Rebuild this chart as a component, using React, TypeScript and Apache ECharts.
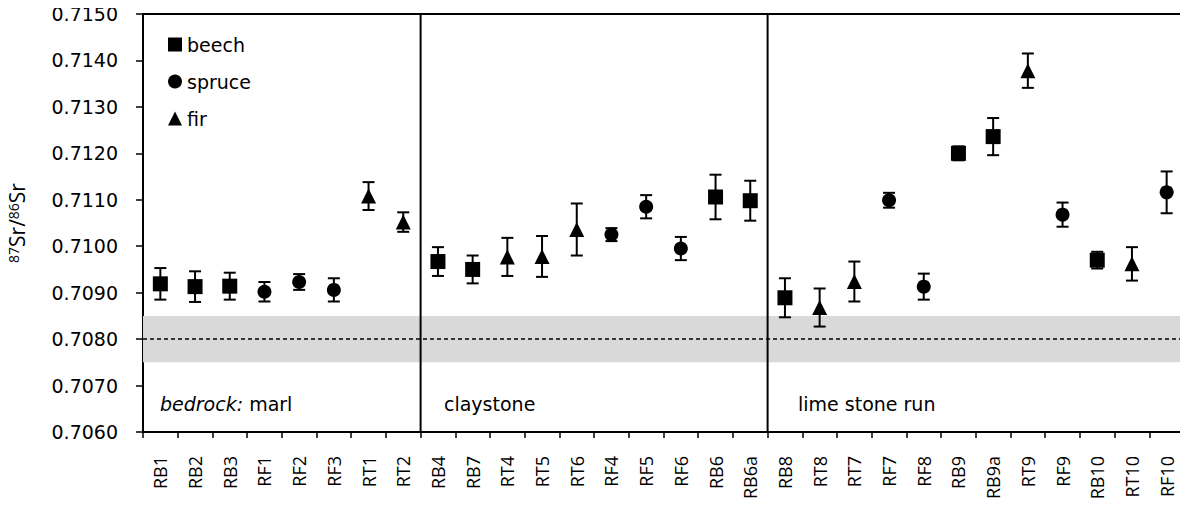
import React, { useEffect, useRef } from "react";
import * as echarts from "echarts";

const categories = ["RB1","RB2","RB3","RF1","RF2","RF3","RT1","RT2","RB4","RB7","RT4","RT5","RT6","RF4","RF5","RF6","RB6","RB6a","RB8","RT8","RT7","RF7","RF8","RB9","RB9a","RT9","RF9","RB10","RT10","RF10"];
const species = ["beech","beech","beech","spruce","spruce","spruce","fir","fir","beech","beech","fir","fir","fir","spruce","spruce","spruce","beech","beech","beech","fir","fir","spruce","spruce","beech","beech","fir","spruce","beech","fir","spruce"];
const ratios = [0.70919,0.70913,0.70914,0.70902,0.70923,0.70906,0.71108,0.71052,0.70967,0.70950,0.70977,0.70978,0.71036,0.71025,0.71085,0.70995,0.71106,0.71098,0.70889,0.70868,0.70924,0.71099,0.70913,0.71200,0.71236,0.71378,0.71068,0.70970,0.70962,0.71116];
const errors = [0.00034,0.00033,0.00029,0.00021,0.00017,0.00025,0.00030,0.00021,0.00031,0.00030,0.00041,0.00044,0.00056,0.00014,0.00025,0.00025,0.00048,0.00043,0.00042,0.00041,0.00043,0.00016,0.00028,0.00015,0.00040,0.00037,0.00026,0.00018,0.00036,0.00045];
const speciesList = ["beech", "spruce", "fir"];
const speciesSymbols = ["rect", "circle", "triangle"];
const speciesSizes = [15, 14, 15];
const bandRange = [0.7075, 0.7085];
const seawaterLine = 0.708;
const dividers = [7.5, 17.5];
const yMin = 0.706;
const yMax = 0.715;
const yStep = 0.001;

const FONT = "DejaVu Sans";

export default function App() {
  const ref = useRef<HTMLDivElement>(null);
  useEffect(() => {
    if (!ref.current) return;
    const chart = echarts.init(ref.current, null, { renderer: "svg" });
    const xMinV = -0.5;
    const xMaxV = categories.length - 0.5;
    const scatterSeries = speciesList.map((s, k) => ({
      name: s,
      type: "scatter",
      xAxisIndex: 0,
      yAxisIndex: 0,
      symbol: speciesSymbols[k],
      symbolSize: speciesSizes[k],
      itemStyle: { color: "#000", opacity: 1 },
      z: 5,
      data: categories
        .map((c, i) => (species[i] === s ? [c, ratios[i]] : null))
        .filter((d) => d !== null),
    }));
    const option: any = {
      animation: false,
      grid: { left: 143, right: 4, top: 14, bottom: 74, show: false, containLabel: false, outerBoundsMode: "none" },
      legend: {
        orient: "vertical",
        left: 163,
        top: 30,
        itemWidth: 14,
        itemHeight: 14,
        itemGap: 18,
        textStyle: { fontSize: 19, fontFamily: FONT, color: "#000" },
        data: speciesList.map((s, k) => ({ name: s, icon: speciesSymbols[k], itemStyle: { color: "#000", opacity: 1 } })),
      },
      xAxis: [
        {
          type: "category",
          data: categories,
          boundaryGap: true,
          axisLine: { onZero: false, lineStyle: { color: "#000", width: 2 } },
          axisTick: { show: true, interval: 0, length: 6, lineStyle: { color: "#000", width: 1.5 } },
          axisLabel: { interval: 0, rotate: 90, margin: 24, fontSize: 18, fontFamily: "Open Sans", color: "#000" },
          splitLine: { show: false },
        },
        {
          type: "value",
          position: "top",
          min: xMinV,
          max: xMaxV,
          axisLine: { show: true, onZero: false, lineStyle: { color: "#000", width: 2 } },
          axisTick: { show: false },
          axisLabel: { show: false },
          splitLine: { show: false },
        },
      ],
      yAxis: [
        {
          type: "value",
          position: "left",
          min: yMin,
          max: yMax,
          interval: yStep,
          name: "{s|87}Sr/{s|86}Sr",
          nameLocation: "middle",
          nameGap: 115,
          nameTextStyle: {
            fontSize: 21,
            fontFamily: "Open Sans",
            color: "#000",
            rich: { s: { fontSize: 14, fontFamily: "Open Sans", color: "#000", padding: [0, 0, 8, 0] } },
          },
          axisLine: { show: true, onZero: false, lineStyle: { color: "#000", width: 2 } },
          axisTick: { show: true, length: 7, lineStyle: { color: "#000", width: 1.5 } },
          axisLabel: {
            margin: 25,
            fontSize: 19,
            fontFamily: FONT,
            color: "#000",
            formatter: (v: number) => v.toFixed(4),
          },
          splitLine: { show: false },
        },
        {
          type: "value",
          position: "right",
          min: yMin,
          max: yMax,
          interval: yStep,
          axisLine: { show: true, onZero: false, lineStyle: { color: "#000", width: 2 } },
          axisTick: { show: false },
          axisLabel: { show: false },
          splitLine: { show: false },
        },
      ],
      series: [
        {
          type: "custom",
          xAxisIndex: 1,
          yAxisIndex: 0,
          silent: true,
          z: 1,
          data: [[0]],
          renderItem: (params: any, api: any) => {
            const b0 = api.coord([xMinV, bandRange[1]]);
            const b1 = api.coord([xMaxV, bandRange[0]]);
            const l0 = api.coord([xMinV, seawaterLine]);
            const l1 = api.coord([xMaxV, seawaterLine]);
            const children: any[] = [
              { type: "rect", shape: { x: b0[0], y: b0[1], width: b1[0] - b0[0], height: b1[1] - b0[1] }, style: { fill: "#d9d9d9" } },
              { type: "line", shape: { x1: l0[0], y1: l0[1], x2: l1[0], y2: l1[1] }, style: { stroke: "#000", lineWidth: 1.5, lineDash: [4, 3] } },
            ];
            dividers.forEach((d) => {
              const p0 = api.coord([d, yMax]);
              const p1 = api.coord([d, yMin]);
              children.push({ type: "line", shape: { x1: p0[0], y1: p0[1], x2: p1[0], y2: p1[1] }, style: { stroke: "#000", lineWidth: 2 } });
            });
            return { type: "group", children };
          },
        },
        {
          type: "custom",
          xAxisIndex: 0,
          yAxisIndex: 0,
          z: 4,
          silent: true,
          data: categories.map((c, i) => [i, ratios[i] - errors[i], ratios[i] + errors[i]]),
          renderItem: (params: any, api: any) => {
            const x = api.value(0);
            const lo = api.coord([x, api.value(1)]);
            const hi = api.coord([x, api.value(2)]);
            const hw = 6;
            const st = { stroke: "#000", lineWidth: 2 };
            return {
              type: "group",
              children: [
                { type: "line", shape: { x1: lo[0], y1: lo[1], x2: hi[0], y2: hi[1] }, style: st },
                { type: "line", shape: { x1: lo[0] - hw, y1: lo[1], x2: lo[0] + hw, y2: lo[1] }, style: st },
                { type: "line", shape: { x1: hi[0] - hw, y1: hi[1], x2: hi[0] + hw, y2: hi[1] }, style: st },
              ],
            };
          },
        },
        ...scatterSeries,
      ],
      graphic: [
        {
          type: "text",
          x: 160,
          y: 404,
          style: {
            text: "{i|bedrock:} marl",
            fontSize: 19,
            fontFamily: FONT,
            fill: "#000",
            verticalAlign: "middle",
            rich: { i: { fontStyle: "italic", fontSize: 19, fontFamily: FONT } },
          },
        },
        {
          type: "text",
          x: 444,
          y: 404,
          style: { text: "claystone", fontSize: 19, fontFamily: FONT, fill: "#000", verticalAlign: "middle" },
        },
        {
          type: "text",
          x: 798,
          y: 404,
          style: { text: "lime stone run", fontSize: 19, fontFamily: FONT, fill: "#000", verticalAlign: "middle" },
        },
      ],
    };
    chart.setOption(option);
    return () => chart.dispose();
  }, []);
  return <div ref={ref} style={{ width: 1188, height: 506, margin: -8 }} />;
}
